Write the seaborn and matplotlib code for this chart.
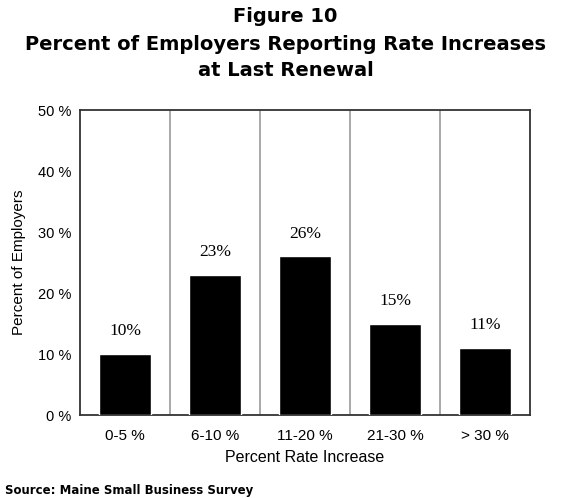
import matplotlib
matplotlib.use("Agg")
import matplotlib.pyplot as plt
import seaborn as sns
import pandas as pd

categories = ["0-5 %", "6-10 %", "11-20 %", "21-30 %", "> 30 %"]
percents = [10, 23, 26, 15, 11]
value_labels = ["10%", "23%", "26%", "15%", "11%"]
y_ticks = [0, 10, 20, 30, 40, 50]
y_tick_labels = ["0 %", "10 %", "20 %", "30 %", "40 %", "50 %"]
title_lines = ["Figure 10",
               "Percent of Employers Reporting Rate Increases",
               "at Last Renewal"]

sns.set_style("white")
plt.rcParams["font.family"] = ["Liberation Sans", "DejaVu Sans"]
plt.rcParams["text.color"] = "black"
plt.rcParams["axes.labelcolor"] = "black"
plt.rcParams["xtick.color"] = "black"
plt.rcParams["ytick.color"] = "black"

df = pd.DataFrame({"category": categories, "percent": percents})

fig = plt.figure(figsize=(5.71, 4.98), dpi=100)
ax = fig.add_axes([80 / 571, 1 - 415 / 498, 450 / 571, 305 / 498])

sns.barplot(data=df, x="category", y="percent", color="black",
            width=0.57, saturation=1, ax=ax, zorder=3)

ax.set_ylim(0, 50)
ax.set_xlim(-0.5, len(categories) - 0.5)
ax.set_yticks(y_ticks)
ax.set_yticklabels(y_tick_labels, fontsize=10.5)
ax.set_xticks(range(len(categories)))
ax.set_xticklabels(categories, fontsize=11)
ax.tick_params(axis="y", length=0, pad=6)
ax.tick_params(axis="x", length=0, pad=10)

# separators between categories
for k in range(1, len(categories)):
    ax.axvline(k - 0.5, color="#999999", lw=1.2, zorder=1)

for spine in ax.spines.values():
    spine.set_visible(True)
    spine.set_color("#333333")
    spine.set_linewidth(1.3)

for i, (v, lab) in enumerate(zip(percents, value_labels)):
    ax.text(i, v + 2.4, lab, ha="center", va="bottom",
            fontsize=12.5, family="Liberation Serif")

ax.set_xlabel("Percent Rate Increase", fontsize=11.5, labelpad=5)
ax.set_ylabel("Percent of Employers", fontsize=11, labelpad=9)

for line, ypx in zip(title_lines, [17, 44, 71]):
    fig.text(0.5, 1 - ypx / 498, line, ha="center", va="center",
             fontsize=14, fontweight="bold", family="DejaVu Sans")

fig.text(5 / 571, 1 - 490 / 498, "Source: Maine Small Business Survey",
         ha="left", va="center", fontsize=8.5, fontweight="bold",
         family="DejaVu Sans")

fig.savefig("out.png", dpi=100)
